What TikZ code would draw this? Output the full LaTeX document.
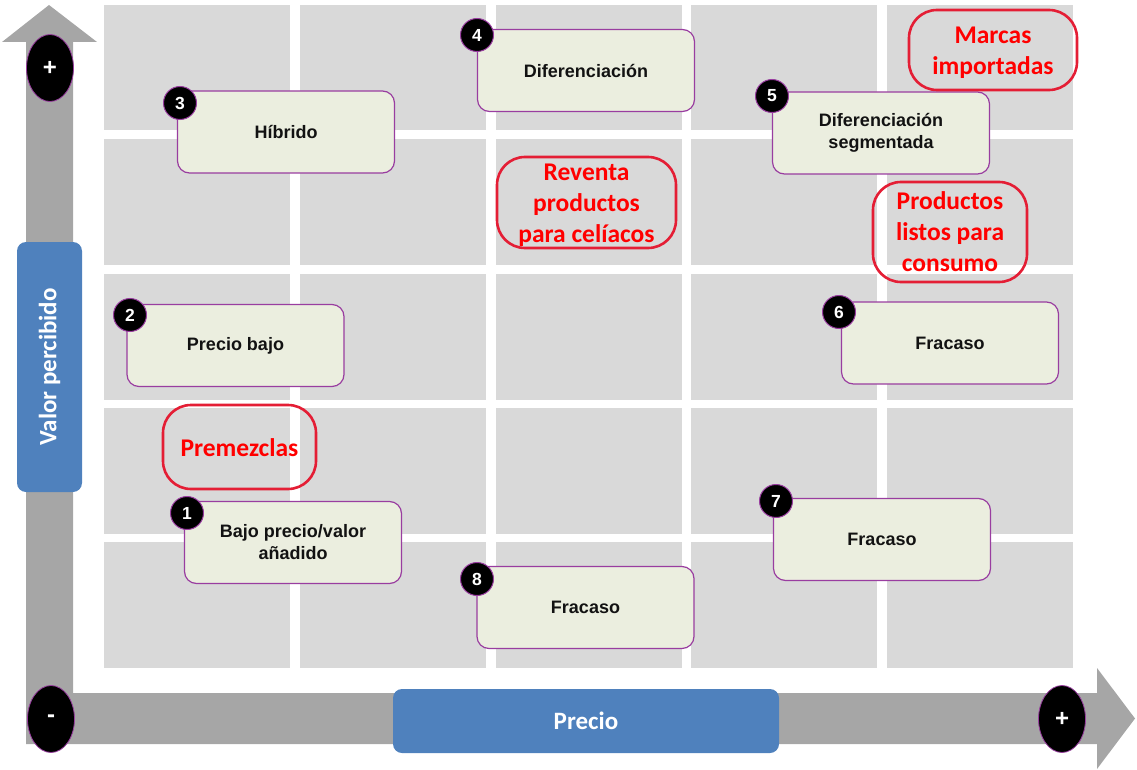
\documentclass[tikz,border=0pt]{standalone}
\usepackage{fontspec}
\setmainfont{Liberation Sans}
\newfontfamily\carlito{Carlito}
\usetikzlibrary{shapes.geometric,calc}

\definecolor{cellgray}{HTML}{D9D9D9}
\definecolor{arrowgray}{HTML}{A6A6A6}
\definecolor{boxfill}{HTML}{EBEEDF}
\definecolor{boxedge}{HTML}{993DA0}
\definecolor{axisblue}{HTML}{4F81BD}
\definecolor{markred}{HTML}{E41E35}
\definecolor{marktext}{HTML}{FF0000}

\tikzset{
  cell/.style={fill=cellgray, draw=none},
  strat/.style={draw=boxedge, line width=1.2pt, fill=boxfill, rounded corners=12pt,
    minimum width=217pt, minimum height=82pt, inner sep=0pt, align=center,
    text=black!93, font=\bfseries\fontsize{18}{22}\selectfont},
  badge/.style={circle, fill=black, draw=boxedge, line width=1pt, minimum size=33pt,
    inner sep=0pt, text=white, font=\bfseries\fontsize{17.5}{17.5}\selectfont},
  market/.style={draw=markred, line width=2.6pt, rounded corners=28pt, inner sep=0pt},
  markettext/.style={inner sep=0pt, align=center, text=marktext,
    font=\carlito\bfseries\fontsize{25.5}{31}\selectfont},
  axislabel/.style={fill=axisblue, rounded corners=9pt, text=white, inner sep=0pt,
    font=\carlito\bfseries\fontsize{25}{25}\selectfont},
  sign/.style={ellipse, fill=black, draw=boxedge, line width=0.8pt, minimum width=47pt,
    minimum height=67pt, inner sep=0pt, text=white, font=\bfseries\fontsize{24}{24}\selectfont},
}

\begin{document}
\begin{tikzpicture}[x=1pt, y=-1pt]
\useasboundingbox (0,0) rectangle (1137,770);

% 5 x 5 background grid
\foreach \cx in {104,300,496,691,887}
  \foreach \cy in {5,139,274,408,542}
    \path[cell] (\cx,\cy) rectangle ++(185.5,125.5);

% L-shaped axis arrow
\fill[arrowgray] (26,744) -- (26,42) -- (2,42) -- (49,5) -- (97,42) -- (73,42)
  -- (73,693) -- (1097,693) -- (1097,668) -- (1135,718.5) -- (1097,769)
  -- (1097,744) -- cycle;

% axis ends
\node[sign] (vplus)  at (50,68)   {+};
\node[sign] (origin) at (51,719)  {-};
\node[sign] (hplus)  at (1062,719) {+};

% axis labels
\node[axislabel, minimum width=250pt, minimum height=65pt, rotate=90] (valor) at (49.5,367) {Valor percibido};
\node[axislabel, minimum width=386pt, minimum height=64pt] (precio) at (586,721) {Precio};

% strategy boxes
\node[strat] (s1) at (293,542.5) {Bajo precio/valor\\añadido};
\node[strat] (s2) at (235.5,345.5) {Precio bajo};
\node[strat] (s3) at (286,132) {Híbrido};
\node[strat] (s4) at (586,70.5) {Diferenciación};
\node[strat] (s5) at (881,133) {Diferenciación\\segmentada};
\node[strat] (s6) at (950,343) {Fracaso};
\node[strat] (s7) at (882,539.5) {Fracaso};
\node[strat] (s8) at (585.5,607.5) {Fracaso};

% numbered badges
\node[badge] (b1) at (187,513) {1};
\node[badge] (b2) at (130,315) {2};
\node[badge] (b3) at (180,103) {3};
\node[badge] (b4) at (477,35)  {4};
\node[badge] (b5) at (772,96)  {5};
\node[badge] (b6) at (839,312) {6};
\node[badge] (b7) at (776,501) {7};
\node[badge] (b8) at (477,579) {8};

% market segments: frames and their captions
\node[market, minimum width=168pt, minimum height=80pt]  (m1) at (993,50) {};
\node[market, minimum width=154pt, minimum height=100pt] (m2) at (950,232) {};
\node[market, minimum width=179pt, minimum height=91pt]  (m3) at (586.5,202.5) {};
\node[market, minimum width=153pt, minimum height=84pt]  (m4) at (239.5,447) {};

\node[markettext] (t1) at ($(m1.center)+(0,3)$) {Marcas\\importadas};
\node[markettext] (t2) at ($(m2.center)+(0,0)$) {Productos\\listos para\\consumo};
\node[markettext] (t3) at ($(m3.center)+(0,3)$) {Reventa\\productos\\para celíacos};
\node[markettext] (t4) at ($(m4.center)+(0,1)$) {Premezclas};
\end{tikzpicture}
\end{document}
